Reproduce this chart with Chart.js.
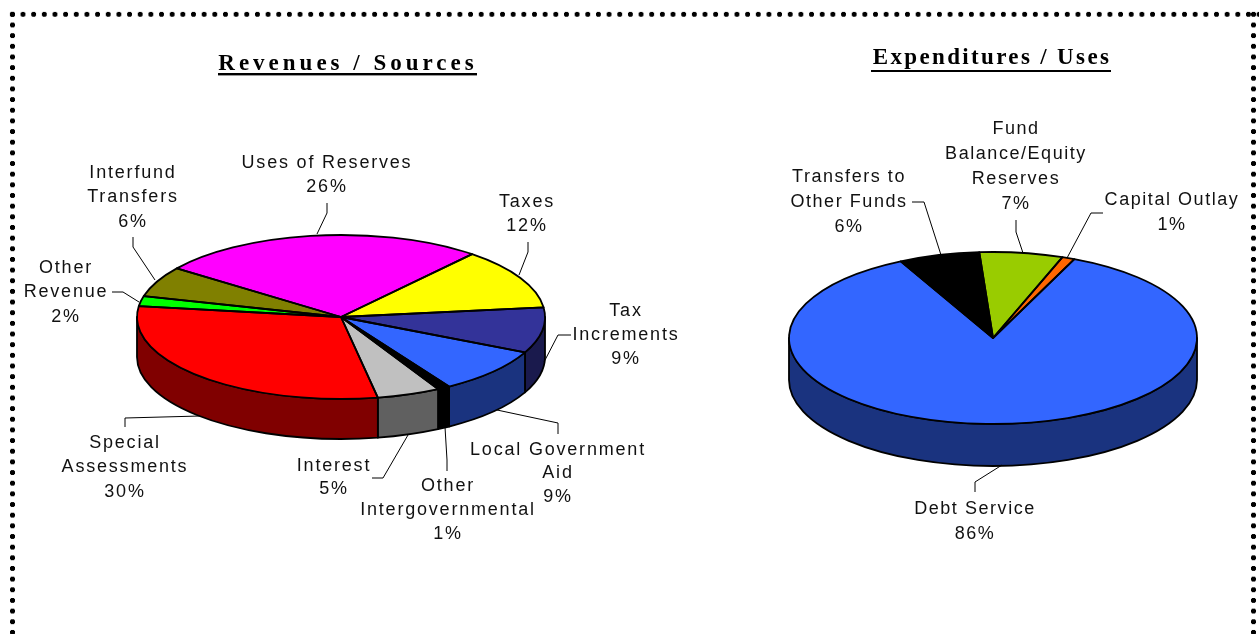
<!DOCTYPE html>
<html><head><meta charset="utf-8">
<style>
html,body{margin:0;padding:0;background:#fff;width:1259px;height:634px;overflow:hidden}
canvas{position:absolute;top:0}
#c1{left:0}#c2{left:690px}
.dots{position:absolute;background-image:radial-gradient(circle at center,#000 2.2px,rgba(0,0,0,0) 2.9px);background-size:10.67px 10.67px}
</style>
<script src="https://cdn.jsdelivr.net/npm/chart.js@4/dist/chart.umd.min.js"></script>
</head><body>
<div class="dots" style="left:7.4px;top:8.7px;width:1254px;height:10.67px;background-repeat:repeat-x"></div>
<div class="dots" style="left:7.4px;top:8.7px;width:10.67px;height:626px;background-repeat:repeat-y"></div>
<div class="dots" style="left:1248.4px;top:8.7px;width:10.67px;height:626px;background-repeat:repeat-y"></div>
<canvas id="c1" width="690" height="634"></canvas>
<canvas id="c2" width="569" height="634"></canvas>
<script>
const revenueTitle = 'Revenues / Sources';
const revenueCategories = ['Taxes','Tax Increments','Local Government Aid','Other Intergovernmental','Interest','Special Assessments','Other Revenue','Interfund Transfers','Uses of Reserves'];
const revenueValues = [12,9,9,1,5,30,2,6,26];
const revenueColors = ['#ffff00','#333399','#3366ff','#000000','#c0c0c0','#ff0000','#00ff00','#808000','#ff00ff'];
const revenueSideColors = ['#808000','#1a1a4d','#1a337f','#000000','#606060','#800000','#008000','#404000','#800080'];
const revenueLabelLines = [['Taxes'],['Tax','Increments'],['Local Government','Aid'],['Other','Intergovernmental'],['Interest'],['Special','Assessments'],['Other','Revenue'],['Interfund','Transfers'],['Uses of Reserves']];

const expenseTitle = 'Expenditures / Uses';
const expenseCategories = ['Debt Service','Transfers to Other Funds','Fund Balance/Equity Reserves','Capital Outlay'];
const expenseValues = [86,6.4,6.6,1];
const expenseColors = ['#3366ff','#000000','#99cc00','#ff6600'];
const expenseSideColors = ['#1a337f','#000000','#4d6600','#803300'];
const expenseLabelLines = [['Debt Service'],['Transfers to','Other Funds'],['Fund','Balance/Equity','Reserves'],['Capital Outlay']];

/* layout, in page pixels: label centre x, baselines, leader polyline */
const revenueLayout = {
  ox:0, cx:341, cy:317, rx:204, ry:82, depth:40, rotation:40, spacing:1.8,
  title:{x:348,y:70,size:23,spacing:4.0,ulY:73,ulH:2.4,x0:218,x1:477},
  labels:[
    {x:527,y:[207,231],lead:[[528,242],[528,252],[519,275]]},
    {x:626,y:[316,340,364],lead:[[571,335],[558,335],[544,362]]},
    {x:558,y:[455,478,502],lead:[[558,434],[558,423],[497,410]]},
    {x:448,y:[491,515,539],lead:[[447,471],[447,460],[445,427]]},
    {x:334,y:[471,494],lead:[[372,478],[383,478],[408,435]]},
    {x:125,y:[448,472,497],lead:[[125,427],[125,418],[200,416]]},
    {x:66,y:[273,297,322],lead:[[112,292],[123,292],[139,302]]},
    {x:133,y:[178,202,227],lead:[[133,237],[133,247],[155,280]]},
    {x:327,y:[168,192],lead:[[327,203],[327,213],[317,234]]}
  ]
};
const expenseLayout = {
  ox:690, cx:993, cy:338, rx:204, ry:86, depth:42, rotation:23.5, spacing:1.55,
  title:{x:992,y:64,size:23,spacing:2.35,ulY:70,ulH:2,x0:871,x1:1111},
  labels:[
    {x:975,y:[514,539],lead:[[975,492],[975,482],[1002,465]]},
    {x:849,y:[182,207,232],lead:[[912,202],[924,202],[941,255]]},
    {x:1016,y:[134,159,184,209],lead:[[1016,220],[1016,232],[1023,253]]},
    {x:1172,y:[205,230],lead:[[1103,213],[1091,213],[1067,258]]}
  ]
};

const pie3d = {
  id:'pie3d',
  beforeDatasetsDraw(chart,args,o){
    const ctx=chart.ctx, L=o.layout, sx=L.cx-L.ox, arcs=chart.getDatasetMeta(0).data, TAU=Math.PI*2;
    const side=chart.data.datasets[0].sideColors;
    arcs.forEach((a,i)=>{
      for(let k=-1;k<=1;k++){
        const s=Math.max(a.startAngle,TAU*k), e=Math.min(a.endAngle,Math.PI+TAU*k);
        if(e<=s) continue;
        ctx.beginPath();
        ctx.ellipse(sx,L.cy,L.rx,L.ry,0,s,e);
        ctx.ellipse(sx,L.cy+L.depth,L.rx,L.ry,0,e,s,true);
        ctx.closePath();
        ctx.fillStyle=side[i];ctx.fill();
        ctx.strokeStyle='#000';ctx.lineWidth=1.8;ctx.lineJoin='round';ctx.stroke();
      }
    });
    ctx.save();
    ctx.translate(sx,L.cy);ctx.scale(1,L.ry/L.rx);ctx.translate(-sx,-L.cy);
  },
  afterDatasetsDraw(chart,args,o){
    const ctx=chart.ctx, L=o.layout, sx=L.cx-L.ox;
    ctx.restore();
    const arcs=chart.getDatasetMeta(0).data;
    ctx.strokeStyle='#000';ctx.lineWidth=1.8;ctx.lineJoin='round';
    arcs.forEach(a=>{
      ctx.beginPath();
      ctx.moveTo(sx,L.cy);
      ctx.ellipse(sx,L.cy,L.rx,L.ry,0,a.startAngle,a.endAngle);
      ctx.closePath();ctx.stroke();
    });
    // title
    const t=L.title;
    ctx.fillStyle='#000';ctx.textAlign='center';ctx.textBaseline='alphabetic';
    ctx.font='bold '+t.size+'px "Liberation Serif"';
    ctx.letterSpacing=t.spacing+'px';
    ctx.fillText(o.title,t.x-L.ox,t.y);
    ctx.letterSpacing='0px';
    ctx.fillRect(t.x0-L.ox,t.ulY,t.x1-t.x0,t.ulH);
    // leaders + labels
    ctx.font='18px "Liberation Sans"';
    ctx.letterSpacing=L.spacing+'px';
    ctx.fillStyle='#111';
    const vals=chart.data.datasets[0].data;
    L.labels.forEach((l,i)=>{
      const lines=o.lines[i].concat([Math.round(vals[i])+'%']);
      lines.forEach((s,j)=>ctx.fillText(s,l.x-L.ox,l.y[j]));
      ctx.beginPath();
      l.lead.forEach((p,j)=>j?ctx.lineTo(p[0]-L.ox,p[1]):ctx.moveTo(p[0]-L.ox,p[1]));
      ctx.strokeStyle='#000';ctx.lineWidth=1;ctx.stroke();
    });
    ctx.letterSpacing='0px';
  }
};

function build(id,W,cats,vals,cols,side,lines,title,L){
  new Chart(document.getElementById(id),{
    type:'pie',
    data:{labels:cats,datasets:[{data:vals,backgroundColor:cols,sideColors:side,borderWidth:0}]},
    plugins:[pie3d],
    options:{
      responsive:false,animation:false,events:[],rotation:L.rotation,
      layout:{padding:{left:L.cx-L.ox-L.rx,right:W-(L.cx-L.ox+L.rx),top:L.cy-L.rx,bottom:634-(L.cy+L.rx)}},
      plugins:{legend:{display:false},tooltip:{enabled:false},title:{display:false},
        pie3d:{layout:L,lines:lines,title:title}}
    }
  });
}
build('c1',690,revenueCategories,revenueValues,revenueColors,revenueSideColors,revenueLabelLines,revenueTitle,revenueLayout);
build('c2',569,expenseCategories,expenseValues,expenseColors,expenseSideColors,expenseLabelLines,expenseTitle,expenseLayout);
</script>
</body></html>
